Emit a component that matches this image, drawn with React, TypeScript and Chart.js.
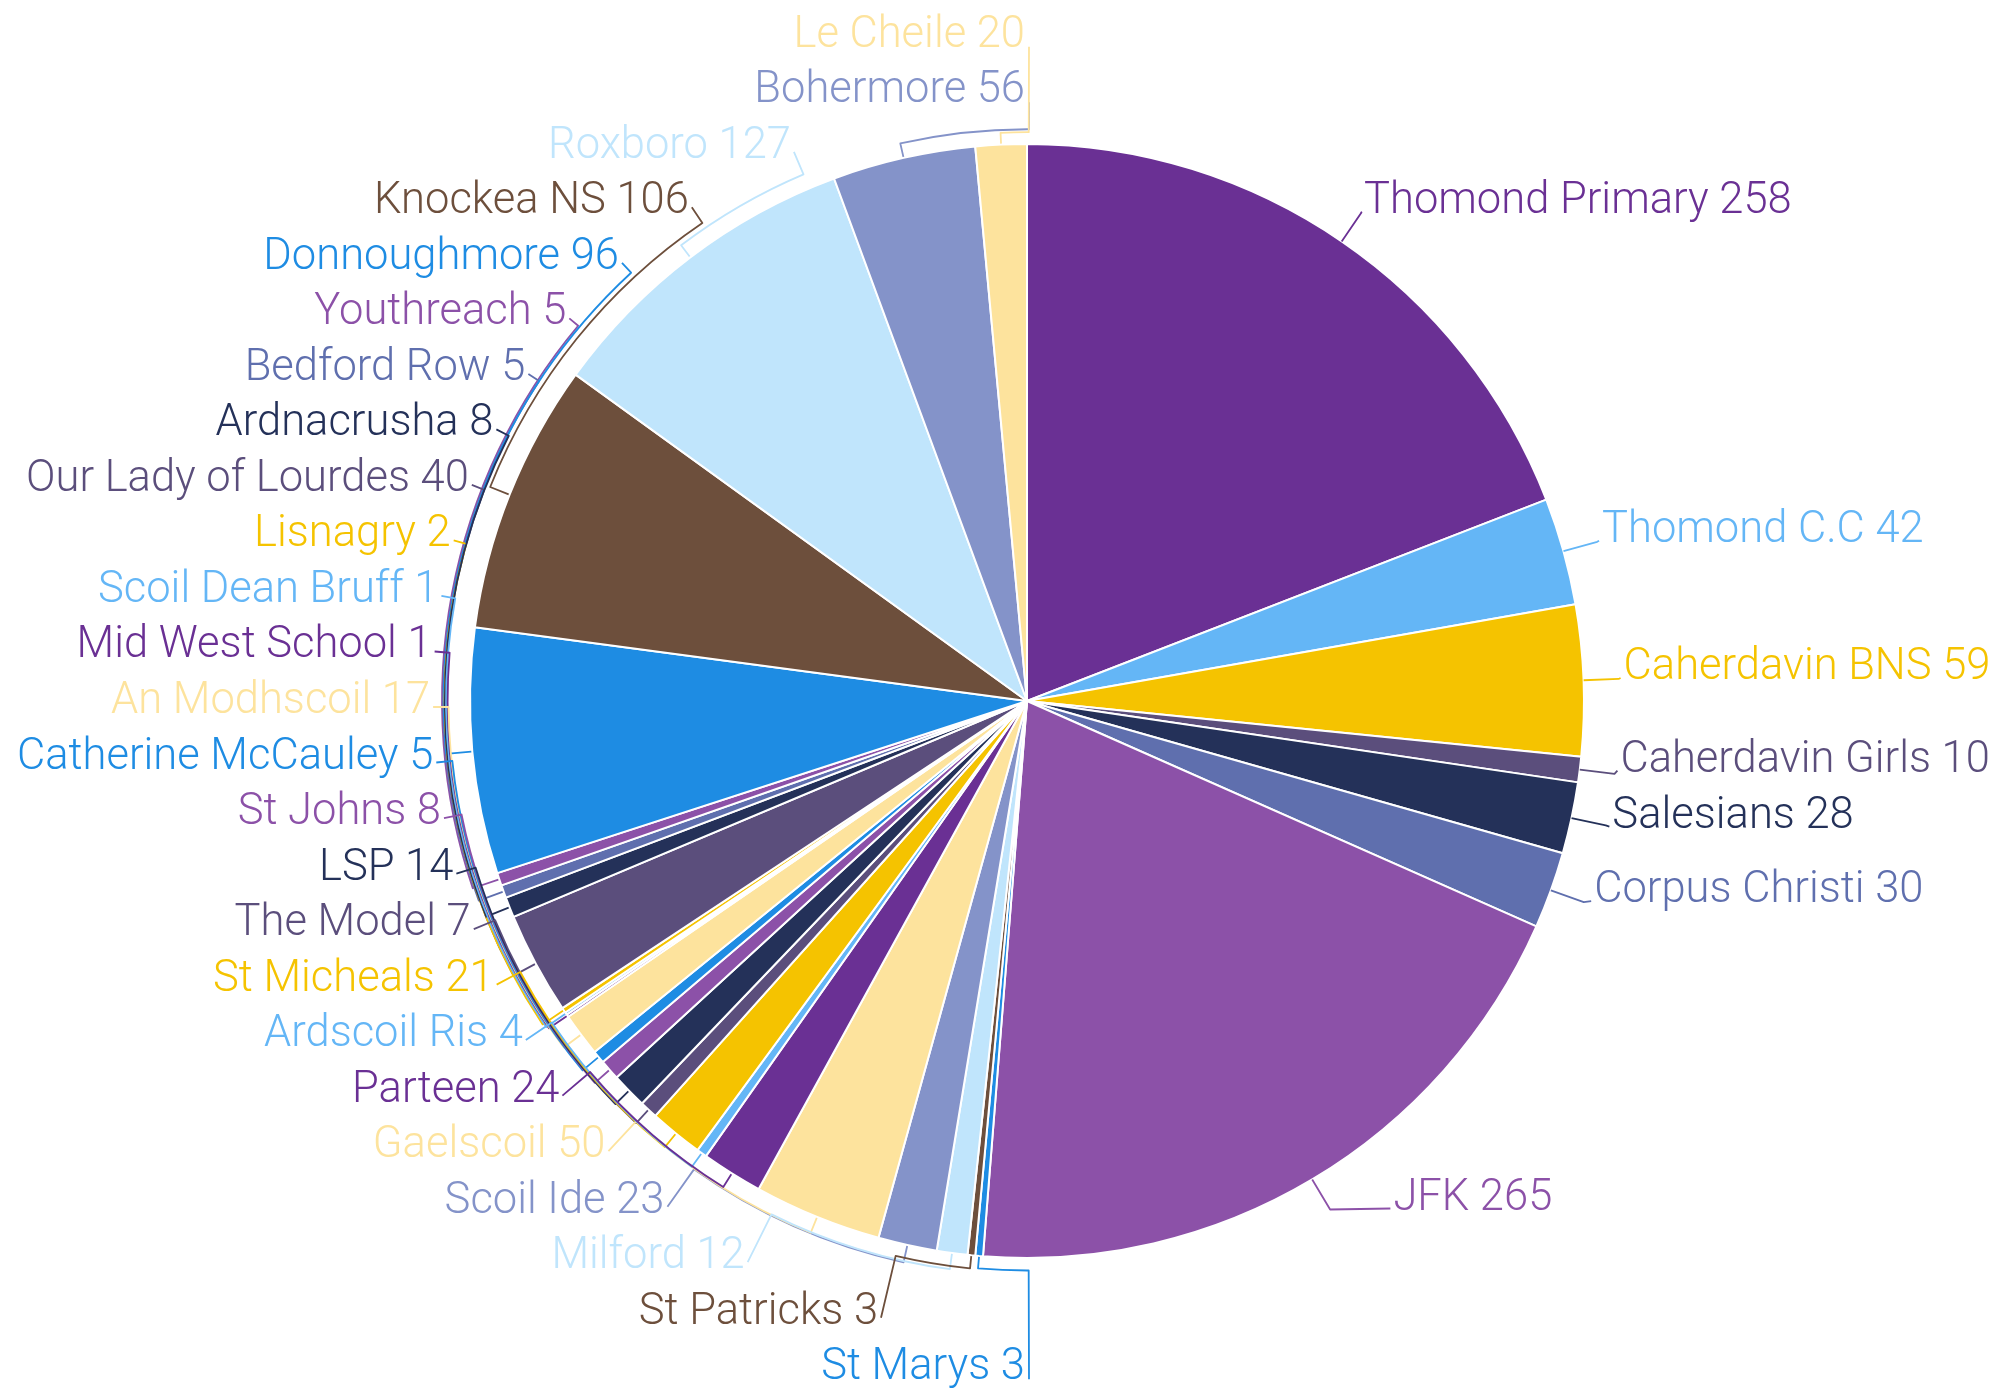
import React, { useEffect, useRef } from "react";
import { Chart, registerables } from "chart.js";

Chart.register(...registerables);

// ---- data (clockwise from 12 o'clock) ----
const schools = [
  "Thomond Primary",
  "Thomond C.C",
  "Caherdavin BNS",
  "Caherdavin Girls",
  "Salesians",
  "Corpus Christi",
  "JFK",
  "St Marys",
  "St Patricks",
  "Milford",
  "Scoil Ide",
  "Gaelscoil",
  "Parteen",
  "Ardscoil Ris",
  "St Micheals",
  "The Model",
  "LSP",
  "St Johns",
  "Catherine McCauley",
  "An Modhscoil",
  "Mid West School",
  "Scoil Dean Bruff",
  "Lisnagry",
  "Our Lady of Lourdes",
  "Ardnacrusha",
  "Bedford Row",
  "Youthreach",
  "Donnoughmore",
  "Knockea NS",
  "Roxboro",
  "Bohermore",
  "Le Cheile",
];

const pupils = [
  258, 42, 59, 10, 28, 30, 265, 3, 3, 12, 23, 50, 24, 4, 21, 7, 14, 8, 5, 17,
  1, 1, 2, 40, 8, 5, 5, 96, 106, 127, 56, 20,
];

// ---- styles ----
const DARK_PURPLE = "#6a3094";
const LIGHT_BLUE = "#64b6f6";
const YELLOW = "#f5c300";
const SLATE_PURPLE = "#5b4e7c";
const NAVY = "#243159";
const SLATE_BLUE = "#5f6fae";
const MED_PURPLE = "#8c51a8";
const BLUE = "#1e8ce3";
const BROWN = "#6d4f3c";
const PALE_BLUE = "#c0e5fc";
const LAVENDER = "#8493c9";
const PALE_YELLOW = "#fde39d";

const sliceColors = [
  DARK_PURPLE, LIGHT_BLUE, YELLOW, SLATE_PURPLE, NAVY, SLATE_BLUE, MED_PURPLE,
  BLUE, BROWN, PALE_BLUE, LAVENDER, PALE_YELLOW,
  DARK_PURPLE, LIGHT_BLUE, YELLOW, SLATE_PURPLE, NAVY, MED_PURPLE, BLUE, PALE_YELLOW,
  DARK_PURPLE, LIGHT_BLUE, YELLOW, SLATE_PURPLE, NAVY, SLATE_BLUE, MED_PURPLE,
  BLUE, BROWN, PALE_BLUE, LAVENDER, PALE_YELLOW,
];

const W = 2006;
const H = 1388;
const FONT_SIZE = 43.5;
const FONT = `300 ${FONT_SIZE}px Roboto`;

type LabelItem = {
  i: number;
  mid: number;
  ux: number;
  uy: number;
  side: number;
  y: number;
  ex: number;
  text: string;
  color: string;
};

const outerLabelsPlugin = {
  id: "outerLabels",
  afterDatasetsDraw(chart: any) {
    const meta = chart.getDatasetMeta(0);
    const arcs = meta.data as any[];
    if (!arcs || !arcs.length) return;
    const cx: number = arcs[0].x;
    const cy: number = arcs[0].y;
    const r: number = arcs[0].outerRadius;
    const ctx: CanvasRenderingContext2D = chart.ctx;
    const height: number = chart.height;

    const len = 35;
    const rA = r + len;
    const rBTop = r + 33;
    const rBBottom = r + 85;
    const gap = 5;
    const rowH = 56;

    const labels = chart.data.labels as string[];
    const values = chart.data.datasets[0].data as number[];
    const colors = chart.data.datasets[0].backgroundColor as string[];

    const items: LabelItem[] = arcs.map((arc: any, i: number) => {
      const mid = (arc.startAngle + arc.endAngle) / 2;
      const ux = Math.cos(mid);
      const uy = Math.sin(mid);
      return {
        i,
        mid,
        ux,
        uy,
        side: ux >= 0 ? 1 : -1,
        y: cy + rA * uy,
        ex: 0,
        text: `${labels[i]} ${values[i]}`,
        color: colors[i],
      };
    });

    const layoutSide = (list: LabelItem[]) => {
      list.sort((a, b) => a.y - b.y);
      const n = list.length;
      if (!n) return;
      if (n * rowH > height) {
        const step = height / n;
        list.forEach((it, k) => {
          it.y = (k + 0.5) * step + 19;
        });
      } else {
        for (let iter = 0; iter < 200; iter++) {
          let moved = false;
          for (let k = 1; k < n; k++) {
            const ov = rowH - (list[k].y - list[k - 1].y);
            if (ov > 0.01) {
              list[k].y += ov / 2;
              list[k - 1].y -= ov / 2;
              moved = true;
            }
          }
          if (!moved) break;
        }
      }
    };

    const right = items.filter((it) => it.side > 0);
    const left = items.filter((it) => it.side < 0);
    layoutSide(right);
    layoutSide(left);

    items.forEach((it) => {
      const dy = it.y - cy;
      const rB = dy < 0 ? rBTop : rBBottom;
      it.ex = Math.abs(dy) >= rB ? 0 : rA * Math.sqrt(1 - (dy * dy) / (rB * rB));
    });

    ctx.save();
    ctx.lineWidth = 1.8;
    ctx.lineJoin = "round";

    // leader lines, right side
    right.forEach((it) => {
      const textX = cx + it.ex + gap;
      ctx.strokeStyle = it.color;
      ctx.beginPath();
      ctx.moveTo(cx + r * it.ux, cy + r * it.uy);
      ctx.lineTo(cx + rA * it.ux, cy + rA * it.uy);
      ctx.lineTo(textX - 3, it.y - 1);
      ctx.stroke();
    });

    // leader lines, left side (hugging the pie)
    const leftGeom = left.map((it) => {
      const clamped = it.ex === 0;
      const endX = clamped ? cx + 2 : cx - it.ex - gap + 3;
      const endY = clamped ? it.y : it.y - 6;
      let phiL = Math.atan2(endY - cy, endX - cx);
      while (phiL - it.mid > Math.PI) phiL -= 2 * Math.PI;
      while (phiL - it.mid < -Math.PI) phiL += 2 * Math.PI;
      return { it, endX, endY, phiL, travel: Math.abs(phiL - it.mid) };
    });
    const maxTravel = Math.max(0.001, ...leftGeom.map((g) => g.travel));
    leftGeom
      .slice()
      .sort((a, b) => b.travel - a.travel)
      .forEach((g) => {
        const it = g.it;
        const rho = r + 11 + 17 * (g.travel / maxTravel);
        ctx.strokeStyle = it.color;
        ctx.beginPath();
        ctx.moveTo(cx + (r + 1) * it.ux, cy + (r + 1) * it.uy);
        ctx.lineTo(cx + rho * it.ux, cy + rho * it.uy);
        ctx.arc(cx, cy, rho, it.mid, g.phiL, g.phiL < it.mid);
        ctx.lineTo(g.endX, g.endY);
        ctx.stroke();
      });

    // texts
    ctx.font = FONT;
    ctx.textBaseline = "alphabetic";
    right.forEach((it) => {
      ctx.fillStyle = it.color;
      ctx.textAlign = "left";
      ctx.fillText(it.text, cx + it.ex + gap, it.y);
    });
    left.forEach((it) => {
      ctx.fillStyle = it.color;
      ctx.textAlign = "right";
      const x = it.ex === 0 ? cx - 2 : cx - it.ex - gap;
      ctx.fillText(it.text, x, it.y);
    });
    ctx.restore();
  },
};

export default function App() {
  const canvasRef = useRef<HTMLCanvasElement | null>(null);

  useEffect(() => {
    let chart: Chart | null = null;
    let cancelled = false;
    const make = () => {
      if (cancelled || !canvasRef.current) return;
      chart = new Chart(canvasRef.current, {
        type: "pie",
        data: {
          labels: schools,
          datasets: [
            {
              data: pupils,
              backgroundColor: sliceColors,
              borderColor: "#ffffff",
              borderWidth: 2,
              hoverOffset: 0,
            },
          ],
        },
        options: {
          responsive: false,
          animation: false,
          devicePixelRatio: 1,
          layout: {
            padding: { left: 469, right: 421, top: 143, bottom: 129 },
          },
          plugins: {
            legend: { display: false },
            tooltip: { enabled: false },
          },
        },
        plugins: [outerLabelsPlugin],
      } as any);
    };
    if ((document as any).fonts && (document as any).fonts.load) {
      (document as any).fonts.load(FONT).then(make, make);
    } else {
      make();
    }
    return () => {
      cancelled = true;
      if (chart) chart.destroy();
    };
  }, []);

  return (
    <div
      style={{
        position: "fixed",
        left: 0,
        top: 0,
        width: W,
        height: H,
        background: "#ffffff",
      }}
    >
      <canvas
        ref={canvasRef}
        width={W}
        height={H}
        style={{ display: "block", width: W, height: H }}
      />
    </div>
  );
}
